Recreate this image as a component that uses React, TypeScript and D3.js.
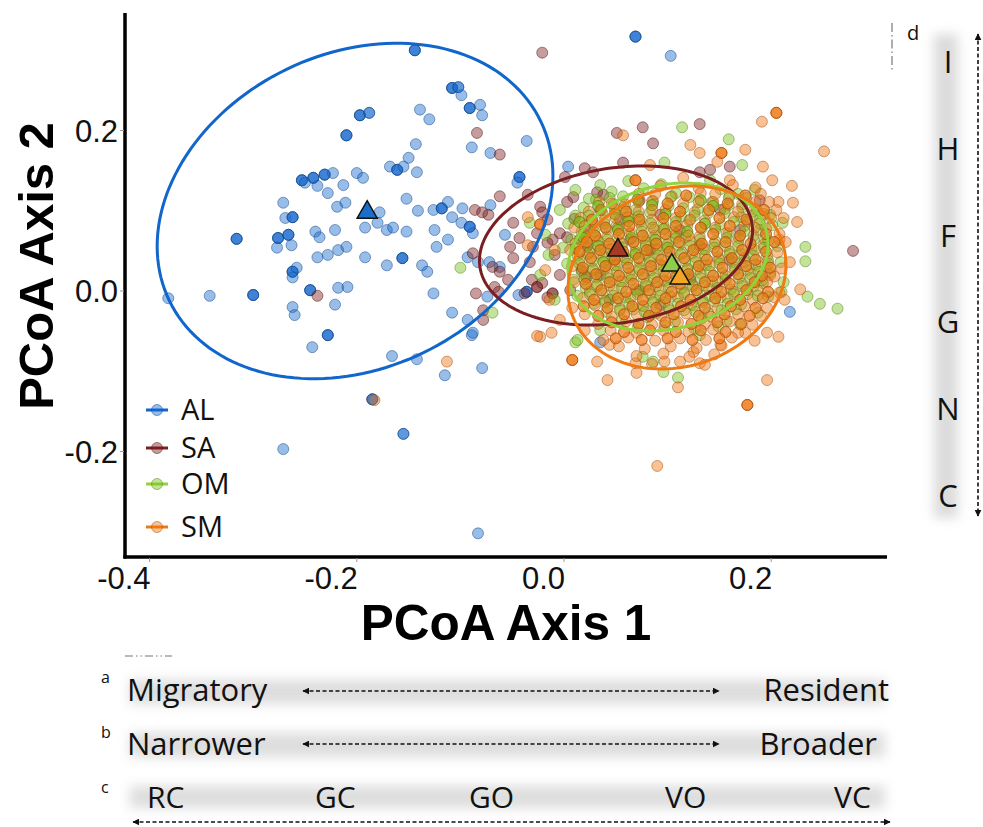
import React from "react";
import * as d3 from "d3";

// ---------- data ----------
const GROUPS = ["AL", "SA", "OM", "SM"];
const X_TICKS = [-0.4, -0.2, 0.0, 0.2];
const Y_TICKS = [-0.2, 0.0, 0.2];
const X_TITLE = "PCoA Axis 1";
const Y_TITLE = "PCoA Axis 2";

// group centroids [x, y]
const CENTROIDS: number[][] = [
  [-0.19, 0.098],
  [0.052, 0.051],
  [0.104, 0.032],
  [0.112, 0.016],
];

// dispersion ellipses [cx, cy, sx, sy, rho]
const ELLIPSES: number[][] = [
  [-0.2017, 0.0997, 0.191, 0.209, 0.21],
  [0.0502, 0.0567, 0.1318, 0.0991, 0.19],
  [0.1004, 0.0424, 0.0965, 0.0922, 0.17],
  [0.109, 0.0168, 0.1052, 0.114, 0.14],
];

// points [x, y, overlapping count]
const AL_POINTS: number[][] = [
  [-0.144, 0.3, 3], [-0.108, 0.253, 3], [-0.102, 0.254, 2], [-0.099, 0.244, 1], [-0.091, 0.228, 3],
  [-0.081, 0.232, 1], [-0.079, 0.219, 1], [-0.197, 0.219, 3], [-0.188, 0.222, 2], [-0.139, 0.226, 1],
  [-0.13, 0.214, 1], [-0.21, 0.194, 3], [-0.143, 0.183, 1], [-0.089, 0.179, 1], [-0.071, 0.172, 1],
  [-0.036, 0.187, 1], [-0.253, 0.138, 3], [-0.242, 0.141, 3], [-0.231, 0.145, 3], [-0.223, 0.147, 1],
  [-0.25, 0.135, 1], [-0.238, 0.131, 1], [-0.228, 0.122, 1], [-0.213, 0.132, 1], [-0.2, 0.147, 1],
  [-0.194, 0.141, 1], [-0.168, 0.155, 1], [-0.161, 0.151, 3], [-0.155, 0.155, 1], [-0.15, 0.166, 1],
  [-0.142, 0.148, 1], [-0.043, 0.142, 3], [-0.045, 0.135, 1], [0.004, 0.155, 1], [-0.271, 0.11, 1],
  [-0.269, 0.091, 1], [-0.262, 0.092, 3], [-0.219, 0.105, 1], [-0.211, 0.11, 1], [-0.178, 0.098, 1],
  [-0.152, 0.115, 1], [-0.141, 0.1, 1], [-0.126, 0.101, 1], [-0.118, 0.103, 3], [-0.112, 0.111, 1],
  [-0.098, 0.103, 1], [-0.071, 0.107, 1], [-0.108, 0.092, 1], [-0.099, 0.085, 1], [-0.091, 0.08, 3],
  [-0.088, 0.072, 1], [-0.057, 0.07, 1], [-0.316, 0.065, 3], [-0.276, 0.066, 3], [-0.266, 0.07, 3],
  [-0.277, 0.054, 1], [-0.263, 0.057, 1], [-0.24, 0.074, 1], [-0.236, 0.067, 1], [-0.221, 0.076, 1],
  [-0.192, 0.079, 1], [-0.18, 0.085, 1], [-0.171, 0.076, 1], [-0.165, 0.079, 1], [-0.152, 0.074, 1],
  [-0.125, 0.076, 1], [-0.112, 0.064, 1], [-0.123, 0.055, 1], [-0.093, 0.042, 1], [-0.083, 0.036, 1],
  [-0.238, 0.042, 1], [-0.228, 0.045, 1], [-0.218, 0.051, 1], [-0.21, 0.055, 1], [-0.192, 0.042, 1],
  [-0.171, 0.032, 1], [-0.156, 0.041, 3], [-0.137, 0.032, 1], [-0.132, 0.024, 1], [-0.262, 0.024, 3],
  [-0.258, 0.029, 1], [-0.262, 0.017, 1], [-0.245, 0.001, 3], [-0.218, 0.004, 1], [-0.209, 0.005, 1],
  [-0.126, -0.003, 1], [-0.3, -0.005, 3], [-0.342, -0.006, 1], [-0.382, -0.009, 1], [-0.262, -0.02, 1],
  [-0.26, -0.03, 1], [-0.221, -0.017, 1], [-0.228, -0.055, 3], [-0.243, -0.07, 1], [-0.108, -0.027, 1],
  [-0.093, -0.036, 1], [-0.089, -0.055, 1], [-0.166, -0.081, 1], [-0.142, -0.085, 1], [-0.115, -0.105, 1],
  [-0.079, -0.096, 1], [-0.185, -0.135, 3], [-0.155, -0.178, 2], [-0.271, -0.197, 1], [-0.083, -0.302, 1],
  [0.069, 0.317, 3], [0.103, 0.293, 1], [-0.072, 0.036, 1], [-0.062, 0.03, 1], [-0.036, -0.001, 3],
  [-0.044, -0.005, 1], [-0.074, -0.007, 1], [-0.088, -0.052, 1], [0.035, -0.064, 1], [0.218, -0.026, 1],
];

const SA_POINTS: number[][] = [
  [-0.021, 0.297, 1], [-0.084, 0.197, 1], [-0.062, 0.17, 1], [0.051, 0.197, 1], [0.076, 0.204, 1],
  [0.086, 0.184, 1], [0.131, 0.208, 1], [0.02, 0.153, 1], [0.028, 0.148, 1], [0.057, 0.16, 1],
  [0.001, 0.142, 1], [0.032, 0.123, 1], [0.038, 0.12, 1], [0.009, 0.117, 1], [0.003, 0.111, 1],
  [-0.062, 0.118, 1], [-0.086, 0.101, 1], [-0.079, 0.098, 1], [-0.073, 0.095, 1], [-0.023, 0.105, 1],
  [-0.021, 0.098, 1], [-0.049, 0.085, 1], [-0.016, 0.089, 1], [-0.004, 0.072, 1], [0.003, 0.067, 1],
  [-0.011, 0.064, 1], [0.023, 0.076, 1], [0.015, 0.064, 1], [0.022, 0.055, 1], [-0.043, 0.066, 1],
  [-0.026, 0.072, 1], [-0.016, 0.06, 1], [-0.052, 0.055, 1], [-0.03, 0.055, 1], [0.141, 0.151, 1],
  [0.131, 0.148, 1], [0.16, 0.155, 1], [-0.088, 0.047, 1], [-0.069, 0.03, 1], [-0.062, 0.024, 1],
  [-0.049, 0.041, 1], [-0.067, 0.005, 1], [-0.078, -0.024, 1], [-0.078, -0.036, 1], [-0.016, -0.008, 1],
  [-0.011, -0.003, 2], [-0.026, 0.005, 2], [-0.021, 0.01, 1], [-0.031, 0.014, 1], [0.006, 0.001, 1],
  [0.017, 0.026, 1], [0.022, 0.017, 1], [-0.004, 0.02, 1], [-0.038, -0.003, 1], [-0.054, 0.014, 1],
  [-0.238, -0.006, 1], [0.279, 0.05, 1], [-0.085, -0.003, 1], [-0.063, -0.001, 1], [0.035, 0.101, 1],
  [0.054, 0.089, 1], [0.073, 0.113, 1], [0.093, 0.095, 1], [0.049, 0.039, 1], [0.064, 0.064, 1],
  [0.083, 0.051, 1], [0.112, 0.076, 1], [0.131, 0.057, 1], [0.151, 0.101, 1], [0.17, 0.076, 1],
  [0.035, 0.02, 1], [0.044, -0.011, 1], [0.073, 0.001, 1], [0.093, -0.017, 1], [0.122, 0.014, 1],
  [0.16, 0.039, 1], [0.189, 0.113, 1], [-0.033, 0.036, 1], [-0.009, 0.045, 1], [0.01, 0.09, 1],
  [-0.035, 0.12, 1],
];

const OM_POINTS: number[][] = [
  // scattered
  [0.114, 0.204, 1], [0.159, 0.189, 1], [0.097, 0.16, 1], [0.024, 0.115, 1], [-0.1, 0.029, 1],
  [-0.033, 0.085, 1], [0.184, 0.126, 1], [0.211, 0.085, 1], [0.233, 0.055, 1], [0.233, 0.037, 1],
  [0.212, 0.011, 1], [0.21, -0.001, 1], [0.235, -0.007, 1], [0.247, -0.016, 1], [0.264, -0.022, 1],
  [0.011, -0.064, 1], [0.076, -0.082, 1], [0.086, -0.088, 1], [0.096, -0.101, 1], [0.11, -0.108, 1],
  [-0.015, 0.045, 1], [-0.023, 0.02, 1], [0.013, -0.061, 1], [-0.069, -0.027, 1], [0.192, 0.01, 1],
  [-0.004, 0.101, 1], [0.011, 0.126, 1], [0.035, 0.132, 1], [0.172, 0.157, 1], [0.199, 0.095, 1],
  [0.194, 0.064, 1], [-0.009, -0.011, 1], [0.035, -0.049, 1], [0.131, -0.055, 1], [0.17, -0.042, 1],
  [-0.018, 0.07, 1],
  // dense core
  [0.062, 0.137, 1], [0.094, 0.133, 1], [0.141, 0.138, 1],
  [0.046, 0.124, 1], [0.077, 0.128, 1], [0.108, 0.122, 1], [0.151, 0.127, 1], [0.168, 0.121, 1],
  [0.031, 0.114, 1], [0.057, 0.118, 1], [0.086, 0.112, 1], [0.121, 0.117, 1], [0.143, 0.111, 1], [0.176, 0.116, 1],
  [0.019, 0.104, 1], [0.048, 0.108, 1], [0.069, 0.101, 1], [0.101, 0.106, 1], [0.129, 0.102, 1], [0.159, 0.107, 1], [0.186, 0.101, 1],
  [0.011, 0.094, 1], [0.037, 0.097, 1], [0.061, 0.092, 1], [0.083, 0.098, 1], [0.113, 0.093, 1], [0.139, 0.097, 1], [0.171, 0.092, 1], [0.193, 0.096, 1],
  [0.004, 0.084, 1], [0.027, 0.087, 1], [0.051, 0.082, 1], [0.073, 0.086, 1], [0.096, 0.083, 1], [0.121, 0.088, 1], [0.151, 0.083, 1], [0.177, 0.087, 1], [0.201, 0.082, 1],
  [0.017, 0.074, 1], [0.041, 0.077, 1], [0.063, 0.072, 1], [0.087, 0.076, 1], [0.106, 0.073, 1], [0.133, 0.078, 1], [0.159, 0.072, 1], [0.189, 0.076, 1],
  [0.007, 0.064, 1], [0.031, 0.067, 1], [0.053, 0.062, 1], [0.077, 0.066, 1], [0.099, 0.063, 1], [0.117, 0.067, 1], [0.146, 0.062, 1], [0.169, 0.066, 1], [0.197, 0.063, 1],
  [-0.001, 0.054, 1], [0.023, 0.057, 1], [0.044, 0.052, 1], [0.069, 0.056, 1], [0.089, 0.053, 1], [0.111, 0.057, 1], [0.134, 0.052, 1], [0.156, 0.056, 1], [0.181, 0.053, 1], [0.206, 0.056, 1],
  [0.013, 0.044, 1], [0.034, 0.047, 1], [0.059, 0.042, 1], [0.079, 0.046, 1], [0.103, 0.043, 1], [0.124, 0.047, 1], [0.149, 0.042, 1], [0.171, 0.046, 1], [0.196, 0.043, 1],
  [0.003, 0.034, 1], [0.027, 0.037, 1], [0.049, 0.032, 1], [0.073, 0.036, 1], [0.093, 0.033, 1], [0.117, 0.037, 1], [0.137, 0.032, 1], [0.163, 0.036, 1], [0.185, 0.033, 1], [0.209, 0.036, 1],
  [0.017, 0.024, 1], [0.039, 0.027, 1], [0.063, 0.022, 1], [0.084, 0.026, 1], [0.109, 0.023, 1], [0.129, 0.027, 1], [0.153, 0.022, 1], [0.177, 0.026, 1], [0.199, 0.023, 1],
  [0.009, 0.014, 1], [0.031, 0.017, 1], [0.054, 0.012, 1], [0.077, 0.016, 1], [0.097, 0.013, 1], [0.121, 0.017, 1], [0.143, 0.012, 1], [0.169, 0.016, 1], [0.191, 0.013, 1],
  [0.021, 0.004, 1], [0.044, 0.007, 1], [0.069, 0.002, 1], [0.089, 0.006, 1], [0.113, 0.003, 1], [0.135, 0.007, 1], [0.161, 0.002, 1], [0.183, 0.006, 1],
  [0.013, -0.006, 1], [0.037, -0.003, 1], [0.059, -0.008, 1], [0.083, -0.004, 1], [0.103, -0.007, 1], [0.129, -0.003, 1], [0.151, -0.008, 1], [0.177, -0.004, 1], [0.197, -0.007, 1],
  [0.029, -0.016, 1], [0.051, -0.013, 1], [0.076, -0.018, 1], [0.097, -0.014, 1], [0.123, -0.017, 1], [0.145, -0.013, 1], [0.171, -0.017, 1],
  [0.041, -0.026, 1], [0.067, -0.023, 1], [0.089, -0.028, 1], [0.116, -0.024, 1], [0.139, -0.027, 1], [0.166, -0.023, 1], [0.187, -0.027, 1],
  [0.056, -0.036, 1], [0.081, -0.033, 1], [0.107, -0.038, 1], [0.133, -0.034, 1], [0.157, -0.037, 1],
  [0.071, -0.046, 1], [0.097, -0.043, 1], [0.126, -0.047, 1], [0.149, -0.044, 1],
];

// OM dense core, inner
const OM_INNER_POINTS: number[][] = [
  [0.044, 0.116, 1], [0.071, 0.114, 2], [0.103, 0.117, 1], [0.132, 0.113, 2], [0.159, 0.116, 1],
  [0.033, 0.106, 2], [0.058, 0.104, 1], [0.085, 0.107, 2], [0.115, 0.103, 1], [0.144, 0.106, 2], [0.172, 0.104, 1],
  [0.024, 0.094, 1], [0.049, 0.096, 2], [0.072, 0.093, 1], [0.098, 0.096, 2], [0.126, 0.094, 1], [0.155, 0.097, 1], [0.182, 0.094, 1],
  [0.015, 0.086, 2], [0.039, 0.084, 1], [0.062, 0.087, 2], [0.084, 0.084, 1], [0.108, 0.086, 1], [0.136, 0.084, 2], [0.164, 0.086, 1], [0.189, 0.084, 1],
  [0.029, 0.074, 1], [0.052, 0.076, 2], [0.075, 0.074, 1], [0.096, 0.077, 1], [0.119, 0.074, 2], [0.146, 0.076, 1], [0.174, 0.074, 1],
  [0.019, 0.066, 2], [0.042, 0.064, 1], [0.065, 0.066, 1], [0.088, 0.064, 2], [0.108, 0.066, 1], [0.131, 0.064, 1], [0.157, 0.066, 1], [0.183, 0.064, 1],
  [0.011, 0.054, 1], [0.033, 0.056, 2], [0.056, 0.054, 1], [0.079, 0.056, 1], [0.1, 0.054, 2], [0.122, 0.056, 1], [0.145, 0.054, 1], [0.168, 0.056, 1], [0.193, 0.054, 1],
  [0.023, 0.046, 1], [0.046, 0.044, 1], [0.069, 0.046, 2], [0.091, 0.044, 1], [0.113, 0.046, 1], [0.136, 0.044, 1], [0.16, 0.046, 1], [0.183, 0.044, 1],
  [0.015, 0.034, 1], [0.038, 0.036, 2], [0.061, 0.034, 1], [0.083, 0.036, 1], [0.105, 0.034, 1], [0.127, 0.036, 1], [0.15, 0.034, 1], [0.174, 0.036, 1], [0.197, 0.034, 1],
  [0.028, 0.026, 1], [0.051, 0.024, 1], [0.073, 0.026, 1], [0.096, 0.024, 1], [0.119, 0.026, 1], [0.141, 0.024, 1], [0.165, 0.026, 1], [0.188, 0.024, 1],
  [0.02, 0.014, 1], [0.042, 0.016, 1], [0.065, 0.014, 1], [0.087, 0.016, 1], [0.109, 0.014, 1], [0.132, 0.016, 1], [0.156, 0.014, 1], [0.18, 0.016, 1],
  [0.032, 0.006, 1], [0.056, 0.004, 1], [0.079, 0.006, 1], [0.101, 0.004, 1], [0.124, 0.006, 1], [0.148, 0.004, 1], [0.172, 0.006, 1],
  [0.025, -0.004, 1], [0.048, -0.006, 1], [0.071, -0.004, 1], [0.093, -0.006, 1], [0.116, -0.004, 1], [0.14, -0.006, 1], [0.164, -0.004, 1], [0.187, -0.006, 1],
  [0.04, -0.014, 1], [0.063, -0.016, 1], [0.086, -0.014, 1], [0.11, -0.016, 1], [0.134, -0.014, 1], [0.158, -0.016, 1],
  [0.054, -0.024, 1], [0.078, -0.026, 1], [0.102, -0.024, 1], [0.127, -0.026, 1], [0.152, -0.024, 1],
];

const SM_POINTS: number[][] = [
  // scattered
  [0.057, 0.194, 1], [0.191, 0.211, 1], [0.205, 0.222, 3], [0.251, 0.174, 1], [0.131, 0.172, 1],
  [0.152, 0.172, 3], [0.148, 0.161, 1], [0.192, 0.155, 1], [0.069, 0.138, 3], [0.22, 0.131, 1],
  [0.207, 0.111, 1], [0.221, 0.11, 1], [0.225, 0.086, 1], [-0.035, 0.092, 1], [-0.023, 0.083, 3],
  [-0.035, 0.057, 1], [0.218, 0.036, 1], [0.228, 0.002, 1], [0.207, -0.057, 1], [-0.023, -0.057, 1],
  [-0.012, -0.052, 1], [0.008, -0.086, 3], [0.032, -0.088, 1], [0.042, -0.111, 1], [0.069, -0.09, 1],
  [0.07, -0.102, 1], [0.097, -0.088, 1], [0.11, -0.12, 1], [0.131, -0.09, 1], [0.177, -0.142, 3],
  [0.196, -0.111, 1], [0.196, -0.052, 1], [0.09, -0.218, 1], [0.125, -0.076, 1], [-0.113, -0.088, 1],
  [-0.026, -0.056, 1], [-0.183, -0.136, 1], [0.175, -0.052, 1], [0.151, -0.067, 1], [0.044, -0.067, 1],
  [0.02, -0.049, 1], [-0.004, -0.036, 1], [-0.014, -0.011, 1], [-0.018, 0.026, 1], [-0.009, 0.051, 1],
  [0.208, 0.064, 1], [0.213, -0.011, 1], [0.199, 0.02, 1], [0.201, 0.138, 1], [0.175, 0.176, 1],
  [0.122, 0.182, 1], [0.083, 0.157, 1],
  // dense core
  [0.115, 0.141, 1], [0.16, 0.138, 1],
  [0.093, 0.131, 1], [0.13, 0.128, 1], [0.163, 0.132, 1], [0.185, 0.129, 1],
  [0.072, 0.121, 1], [0.104, 0.118, 1], [0.132, 0.122, 1], [0.16, 0.119, 1], [0.19, 0.121, 1],
  [0.034, 0.111, 1], [0.059, 0.108, 1], [0.085, 0.112, 1], [0.115, 0.109, 1], [0.144, 0.111, 1], [0.172, 0.108, 1], [0.198, 0.111, 1],
  [0.024, 0.099, 1], [0.049, 0.102, 1], [0.072, 0.099, 1], [0.098, 0.101, 1], [0.126, 0.098, 1], [0.155, 0.102, 1], [0.182, 0.099, 1], [0.205, 0.101, 1],
  [0.016, 0.091, 1], [0.039, 0.088, 1], [0.062, 0.092, 1], [0.085, 0.089, 1], [0.108, 0.091, 1], [0.136, 0.088, 1], [0.164, 0.092, 1], [0.189, 0.089, 1], [0.212, 0.091, 1],
  [0.01, 0.079, 1], [0.029, 0.082, 1], [0.052, 0.079, 1], [0.075, 0.081, 1], [0.097, 0.078, 1], [0.119, 0.082, 1], [0.146, 0.079, 1], [0.174, 0.081, 1], [0.195, 0.078, 1],
  [0.019, 0.071, 1], [0.042, 0.068, 1], [0.065, 0.072, 1], [0.088, 0.069, 1], [0.108, 0.071, 1], [0.131, 0.068, 1], [0.157, 0.072, 1], [0.183, 0.069, 1], [0.208, 0.071, 1],
  [0.011, 0.059, 1], [0.033, 0.062, 1], [0.056, 0.059, 1], [0.079, 0.061, 1], [0.1, 0.058, 1], [0.122, 0.062, 1], [0.145, 0.059, 1], [0.168, 0.061, 1], [0.193, 0.058, 1], [0.214, 0.061, 1],
  [0.006, 0.051, 1], [0.024, 0.048, 1], [0.046, 0.052, 1], [0.069, 0.049, 1], [0.091, 0.051, 1], [0.114, 0.048, 1], [0.136, 0.052, 1], [0.16, 0.049, 1], [0.184, 0.051, 1], [0.206, 0.048, 1],
  [0.015, 0.039, 1], [0.038, 0.042, 1], [0.061, 0.039, 1], [0.083, 0.041, 1], [0.105, 0.038, 1], [0.127, 0.042, 1], [0.15, 0.039, 1], [0.174, 0.041, 1], [0.197, 0.038, 1],
  [0.008, 0.031, 1], [0.028, 0.028, 1], [0.051, 0.032, 1], [0.073, 0.029, 1], [0.096, 0.031, 1], [0.119, 0.028, 1], [0.141, 0.032, 1], [0.165, 0.029, 1], [0.188, 0.031, 1], [0.21, 0.028, 1],
  [0.02, 0.019, 1], [0.042, 0.022, 1], [0.065, 0.019, 1], [0.087, 0.021, 1], [0.109, 0.018, 1], [0.132, 0.022, 1], [0.156, 0.019, 1], [0.18, 0.021, 1], [0.203, 0.018, 1],
  [0.01, 0.011, 1], [0.032, 0.008, 1], [0.056, 0.012, 1], [0.079, 0.009, 1], [0.101, 0.011, 1], [0.124, 0.008, 1], [0.148, 0.012, 1], [0.172, 0.009, 1], [0.196, 0.011, 1],
  [0.025, -0.001, 1], [0.048, 0.002, 1], [0.071, -0.001, 1], [0.093, 0.001, 1], [0.116, -0.002, 1], [0.14, 0.002, 1], [0.164, -0.001, 1], [0.187, 0.001, 1], [0.208, -0.002, 1],
  [0.018, -0.009, 1], [0.04, -0.012, 1], [0.064, -0.009, 1], [0.087, -0.011, 1], [0.11, -0.008, 1], [0.134, -0.012, 1], [0.158, -0.009, 1], [0.182, -0.011, 1], [0.203, -0.008, 1],
  [0.008, -0.021, 1], [0.03, -0.018, 1], [0.054, -0.022, 1], [0.077, -0.019, 1], [0.101, -0.021, 1], [0.125, -0.018, 1], [0.148, -0.022, 1], [0.174, -0.019, 1], [0.196, -0.021, 1],
  [0.02, -0.029, 1], [0.046, -0.032, 1], [0.07, -0.029, 1], [0.094, -0.031, 1], [0.118, -0.028, 1], [0.142, -0.032, 1], [0.168, -0.029, 1], [0.19, -0.031, 1],
  [0.033, -0.041, 1], [0.06, -0.038, 1], [0.085, -0.042, 1], [0.11, -0.039, 1], [0.136, -0.041, 1], [0.16, -0.038, 1], [0.182, -0.042, 1],
  [0.045, -0.049, 1], [0.07, -0.052, 1], [0.096, -0.049, 1], [0.12, -0.051, 1], [0.144, -0.048, 1], [0.168, -0.052, 1],
  [0.038, -0.061, 1], [0.062, -0.058, 1], [0.088, -0.062, 1], [0.112, -0.059, 1], [0.137, -0.061, 1], [0.162, -0.058, 1], [0.184, -0.062, 1],
  [0.053, -0.069, 1], [0.078, -0.072, 1], [0.103, -0.069, 1], [0.128, -0.071, 1], [0.152, -0.068, 1],
  [0.07, -0.081, 1], [0.096, -0.078, 1], [0.121, -0.082, 1], [0.145, -0.079, 1],
  [0.085, -0.091, 1], [0.112, -0.088, 1], [0.136, -0.092, 1],
];

// SM dense core, inner (repeated observations)
const SM_INNER_POINTS: number[][] = [
  [0.088, 0.121, 1], [0.118, 0.119, 2], [0.146, 0.121, 1], [0.175, 0.119, 2],
  [0.046, 0.109, 1], [0.072, 0.111, 1], [0.1, 0.109, 2], [0.13, 0.111, 1], [0.158, 0.109, 2], [0.185, 0.111, 1],
  [0.036, 0.101, 1], [0.06, 0.099, 2], [0.085, 0.101, 1], [0.112, 0.099, 2], [0.14, 0.101, 2], [0.168, 0.099, 1], [0.193, 0.101, 2],
  [0.027, 0.089, 2], [0.05, 0.091, 1], [0.073, 0.089, 2], [0.096, 0.091, 2], [0.122, 0.089, 1], [0.15, 0.091, 2], [0.176, 0.089, 2], [0.2, 0.091, 1],
  [0.02, 0.081, 1], [0.04, 0.079, 2], [0.063, 0.081, 2], [0.086, 0.079, 1], [0.108, 0.081, 2], [0.132, 0.079, 2], [0.16, 0.081, 2], [0.184, 0.079, 1],
  [0.03, 0.069, 2], [0.053, 0.071, 2], [0.076, 0.069, 2], [0.098, 0.071, 2], [0.12, 0.069, 1], [0.144, 0.071, 2], [0.17, 0.069, 2], [0.195, 0.071, 2],
  [0.022, 0.061, 2], [0.044, 0.059, 2], [0.067, 0.061, 2], [0.089, 0.059, 2], [0.111, 0.061, 2], [0.133, 0.059, 2], [0.156, 0.061, 2], [0.18, 0.059, 2], [0.203, 0.061, 2],
  [0.015, 0.049, 2], [0.035, 0.051, 2], [0.057, 0.049, 2], [0.08, 0.051, 2], [0.102, 0.049, 2], [0.125, 0.051, 2], [0.148, 0.049, 2], [0.172, 0.051, 2], [0.195, 0.049, 2],
  [0.026, 0.041, 2], [0.049, 0.039, 2], [0.072, 0.041, 2], [0.094, 0.039, 2], [0.116, 0.041, 2], [0.138, 0.039, 2], [0.162, 0.041, 2], [0.185, 0.039, 2],
  [0.018, 0.029, 2], [0.04, 0.031, 2], [0.062, 0.029, 2], [0.084, 0.031, 2], [0.107, 0.029, 2], [0.13, 0.031, 2], [0.153, 0.029, 2], [0.176, 0.031, 2], [0.199, 0.029, 2],
  [0.031, 0.021, 2], [0.053, 0.019, 2], [0.076, 0.021, 2], [0.098, 0.019, 2], [0.12, 0.021, 2], [0.144, 0.019, 2], [0.168, 0.021, 2], [0.191, 0.019, 2],
  [0.021, 0.009, 2], [0.044, 0.011, 2], [0.067, 0.009, 2], [0.09, 0.011, 2], [0.112, 0.009, 2], [0.136, 0.011, 2], [0.16, 0.009, 2], [0.184, 0.011, 2],
  [0.036, 0.001, 2], [0.06, -0.001, 2], [0.082, 0.001, 2], [0.104, -0.001, 2], [0.128, 0.001, 2], [0.152, -0.001, 2], [0.176, 0.001, 2], [0.197, -0.001, 2],
  [0.029, -0.011, 2], [0.052, -0.009, 2], [0.076, -0.011, 2], [0.098, -0.009, 2], [0.122, -0.011, 2], [0.146, -0.009, 2], [0.17, -0.011, 2], [0.192, -0.009, 2],
  [0.019, -0.019, 2], [0.042, -0.021, 2], [0.066, -0.019, 2], [0.089, -0.021, 2], [0.113, -0.019, 2], [0.136, -0.021, 2], [0.161, -0.019, 2], [0.185, -0.021, 2],
  [0.033, -0.031, 2], [0.058, -0.029, 2], [0.082, -0.031, 2], [0.106, -0.029, 2], [0.13, -0.031, 2], [0.155, -0.029, 2], [0.179, -0.031, 2],
  [0.046, -0.039, 2], [0.072, -0.041, 2], [0.098, -0.039, 2], [0.123, -0.041, 2], [0.148, -0.039, 2], [0.171, -0.041, 2],
  [0.058, -0.051, 2], [0.083, -0.049, 2], [0.108, -0.051, 2], [0.132, -0.049, 2], [0.156, -0.051, 2],
  [0.05, -0.059, 2], [0.075, -0.061, 2], [0.1, -0.059, 2], [0.124, -0.061, 2], [0.15, -0.059, 2],
];

// annotation texts
const ROW_A = ["Migratory", "Resident"];
const ROW_B = ["Narrower", "Broader"];
const ROW_C = ["RC", "GC", "GO", "VO", "VC"];
const COLUMN_D = ["I", "H", "F", "G", "N", "C"];
const PANEL_TAGS = ["a", "b", "c", "d"];

// ---------- styles / layout ----------
const POINT_COLORS = ["#1769cc", "#7d1d1d", "#78c01a", "#f07410"];
const LINE_COLORS = ["#1166cc", "#7a1e22", "#8fd43a", "#f07a12"];
const TRI_COLORS = ["#1b6fca", "#a33b27", "#8ccf4c", "#f5a524"];
const LEGEND_Y = [410, 448, 484, 527];
const ROW_C_X = [147, 315, 469, 665, 834];

const SANS = "'Liberation Sans', Arial, sans-serif";
const OPEN = "'Open Sans', 'Noto Sans', sans-serif";

export default function App() {
  const W = 983;
  const H = 827;
  const x = d3.scaleLinear().domain([-0.4, 0.2]).range([149.6, 771.2]);
  const y = d3.scaleLinear().domain([-0.2, 0.2]).range([451.5, 130.5]);

  const strokeOf = (gi: number) => d3.color(POINT_COLORS[gi])!.darker(1.1).formatHex();

  // drawing order (group index, points)
  const layers: [number, number[][]][] = [
    [0, AL_POINTS],
    [1, SA_POINTS],
    [2, OM_POINTS],
    [3, SM_POINTS],
    [2, OM_INNER_POINTS],
    [3, SM_INNER_POINTS],
  ];

  const circles: any[] = [];
  layers.forEach(([gi, pts], li) => {
    pts.forEach((p, i) => {
      const n = p[2] || 1;
      for (let k = 0; k < n; k++) {
        circles.push(
          <circle
            key={`${li}-${i}-${k}`}
            cx={x(p[0])}
            cy={y(p[1])}
            r={5.5}
            fill={POINT_COLORS[gi]}
            fillOpacity={0.44}
            stroke={strokeOf(gi)}
            strokeOpacity={0.5}
            strokeWidth={1}
          />
        );
      }
    });
  });

  const line = d3
    .line<number[]>()
    .x((d) => x(d[0]))
    .y((d) => y(d[1]))
    .curve(d3.curveLinearClosed);
  const ellipsePath = (e: number[]) => {
    const [cx, cy, sx, sy, r] = e;
    const pts = d3.range(0, 160).map((i) => {
      const t = (i / 160) * 2 * Math.PI;
      return [cx + sx * Math.cos(t), cy + sy * (r * Math.cos(t) + Math.sqrt(1 - r * r) * Math.sin(t))];
    });
    return line(pts) || "";
  };

  const tri = d3.symbol().type(d3.symbolTriangle).size(175)() || "";
  const yLetters = d3.scalePoint<string>().domain(COLUMN_D).range([62, 496]);
  const fmt = (t: number) => d3.format(".1f")(t).replace("\u2212", "-");

  const dashed = { stroke: "#111", strokeWidth: 1.6, strokeDasharray: "4 2.5", fill: "none" } as const;

  return (
    <svg
      width={W}
      height={H}
      viewBox={`0 0 ${W} ${H}`}
      style={{ position: "absolute", left: 0, top: 0, background: "#fff" }}
    >
      <defs>
        <filter id="soft" x="-20%" y="-80%" width="140%" height="260%">
          <feGaussianBlur stdDeviation="6" />
        </filter>
        <filter id="softV" x="-150%" y="-10%" width="400%" height="120%">
          <feGaussianBlur stdDeviation="6" />
        </filter>
        <marker id="ah" viewBox="0 0 10 10" refX="9" refY="5" markerWidth="7" markerHeight="7" orient="auto-start-reverse" markerUnits="userSpaceOnUse">
          <path d="M0,0 L10,5 L0,10 z" fill="#111" />
        </marker>
      </defs>
      <rect x={0} y={0} width={W} height={H} fill="#fff" />

      {/* points */}
      <g>{circles}</g>

      {/* ellipses */}
      <g fill="none" strokeWidth={3}>
        {ELLIPSES.map((e, i) => (
          <path key={i} d={ellipsePath(e)} stroke={LINE_COLORS[i]} />
        ))}
      </g>

      {/* centroids */}
      <g>
        {CENTROIDS.map((c, i) => (
          <path key={i} d={tri} transform={`translate(${x(c[0])},${y(c[1])})`} fill={TRI_COLORS[i]} stroke="#111" strokeWidth={1.5} />
        ))}
      </g>

      {/* axes */}
      <line x1={125} y1={13} x2={125} y2={558.5} stroke="#000" strokeWidth={3.5} />
      <line x1={123.3} y1={557} x2={887} y2={557} stroke="#000" strokeWidth={3.5} />
      {X_TICKS.map((t) => (
        <g key={t}>
          <line x1={x(t)} x2={x(t)} y1={558} y2={562} stroke="#999" strokeWidth={1} />
          <text x={x(t) + 1} y={589} textAnchor="end" fontFamily={SANS} fontSize={31} fill="#111">
            {fmt(t)}
          </text>
        </g>
      ))}
      {Y_TICKS.map((t) => (
        <g key={t}>
          <line x1={120} x2={124} y1={y(t)} y2={y(t)} stroke="#999" strokeWidth={1} />
          <text x={118} y={y(t) + 11} textAnchor="end" fontFamily={SANS} fontSize={31} fill="#111">
            {fmt(t)}
          </text>
        </g>
      ))}
      <text x={506} y={640} textAnchor="middle" fontFamily={SANS} fontWeight="bold" fontSize={49.5} fill="#000">
        {X_TITLE}
      </text>
      <text transform="translate(53,266) rotate(-90)" textAnchor="middle" fontFamily={SANS} fontWeight="bold" fontSize={49} fill="#000">
        {Y_TITLE}
      </text>

      {/* legend */}
      {GROUPS.map((g, i) => (
        <g key={g}>
          <line x1={146} x2={168} y1={LEGEND_Y[i]} y2={LEGEND_Y[i]} stroke={LINE_COLORS[i]} strokeWidth={3} />
          <circle cx={157} cy={LEGEND_Y[i]} r={5.5} fill={POINT_COLORS[i]} fillOpacity={0.44} stroke={strokeOf(i)} strokeOpacity={0.5} />
          <text x={181} y={LEGEND_Y[i] + 10} fontFamily={OPEN} fontSize={29} fill="#111">
            {g}
          </text>
        </g>
      ))}

      {/* right column (d) */}
      <rect x={934} y={34} width={24} height={484} fill="#cfcfcf" opacity={0.75} filter="url(#softV)" />
      <line x1={892} x2={892} y1={23} y2={70} stroke="#777" strokeWidth={1.2} strokeDasharray="9 3 1.5 3" />
      <text x={907} y={40} fontFamily={OPEN} fontSize={20} fill="#111">
        {PANEL_TAGS[3]}
      </text>
      {COLUMN_D.map((l) => (
        <text key={l} x={948} y={(yLetters(l) as number) + 11} textAnchor="middle" fontFamily={OPEN} fontSize={31} fill="#111">
          {l}
        </text>
      ))}
      <line x1={978} x2={978} y1={34} y2={516} {...dashed} markerStart="url(#ah)" markerEnd="url(#ah)" />

      {/* bottom rows */}
      <line x1={125} x2={172} y1={656} y2={656} stroke="#777" strokeWidth={1.2} strokeDasharray="8 3 1.5 3 1.5 3" />
      <rect x={130} y={680} width={755} height={24} fill="#cfcfcf" opacity={0.7} filter="url(#soft)" />
      <rect x={130} y={733} width={755} height={24} fill="#cfcfcf" opacity={0.7} filter="url(#soft)" />
      <rect x={130} y={786} width={755} height={22} fill="#cfcfcf" opacity={0.7} filter="url(#soft)" />

      <text x={101} y={683} fontFamily={OPEN} fontSize={16} fill="#111">{PANEL_TAGS[0]}</text>
      <text x={101} y={738} fontFamily={OPEN} fontSize={16} fill="#111">{PANEL_TAGS[1]}</text>
      <text x={101} y={793} fontFamily={OPEN} fontSize={16} fill="#111">{PANEL_TAGS[2]}</text>

      <text x={127} y={701} fontFamily={OPEN} fontSize={31} fill="#111">{ROW_A[0]}</text>
      <text x={889} y={701} textAnchor="end" fontFamily={OPEN} fontSize={31} fill="#111">{ROW_A[1]}</text>
      <line x1={303} x2={719} y1={691} y2={691} {...dashed} markerStart="url(#ah)" markerEnd="url(#ah)" />

      <text x={127} y={755} fontFamily={OPEN} fontSize={31} fill="#111">{ROW_B[0]}</text>
      <text x={877} y={755} textAnchor="end" fontFamily={OPEN} fontSize={31} fill="#111">{ROW_B[1]}</text>
      <line x1={303} x2={719} y1={744} y2={744} {...dashed} markerStart="url(#ah)" markerEnd="url(#ah)" />

      {ROW_C.map((l, i) => (
        <text key={l} x={ROW_C_X[i]} y={808} fontFamily={OPEN} fontSize={30} fill="#111">
          {l}
        </text>
      ))}
      <line x1={133} x2={890} y1={822} y2={822} {...dashed} markerStart="url(#ah)" markerEnd="url(#ah)" />
    </svg>
  );
}
